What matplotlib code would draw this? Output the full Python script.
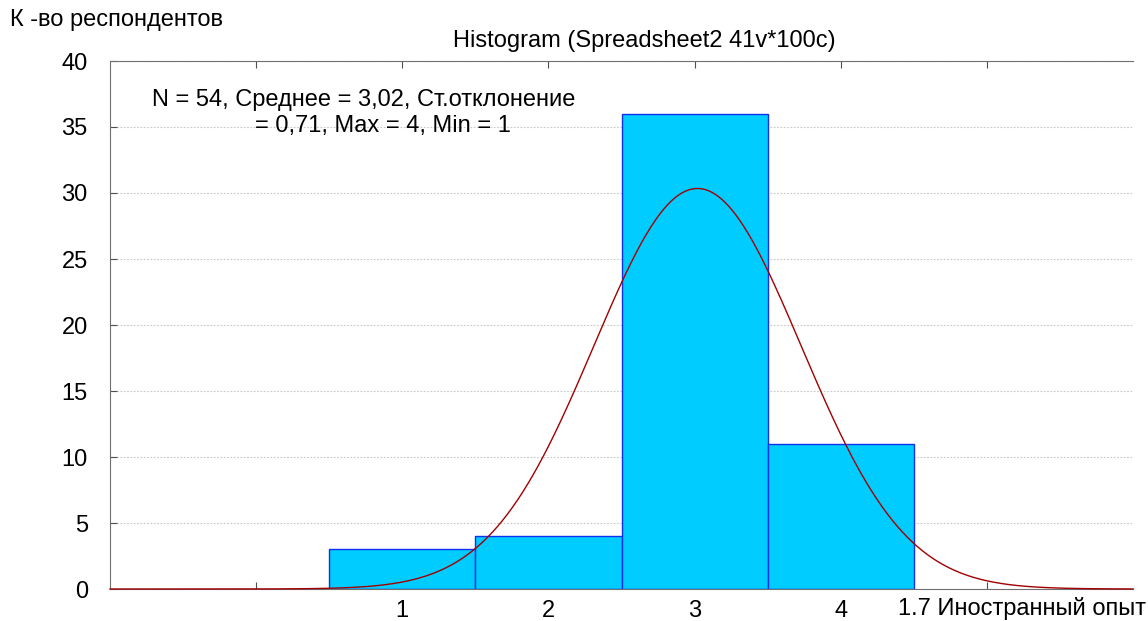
import numpy as np
from matplotlib import pyplot as plt

plt.rcParams['font.family'] = ['Liberation Sans', 'DejaVu Sans']

# histogram data
bins = [1, 2, 3, 4]
counts = [3, 4, 36, 11]
n_obs = 54
mean = 3.02
std = 0.71

fig = plt.figure(figsize=(11.48, 6.21), dpi=100)
ax = fig.add_axes([110 / 1148, 1 - 589 / 621, (1133 - 110) / 1148, (589 - 61) / 621])

ax.bar(bins, counts, width=1.0, color='#00CCFF', edgecolor='#1030F0', linewidth=1.0, zorder=2)

# fitted normal curve from the stats in the box
xs = np.linspace(-1, 6, 400)
ys = n_obs * np.exp(-0.5 * ((xs - mean) / std) ** 2) / (std * np.sqrt(2 * np.pi))
ax.plot(xs, ys, color='#A00000', linewidth=1.0, zorder=3, clip_on=False)

ax.set_xlim(-1, 6)
ax.set_ylim(0, 40)
ax.set_yticks(range(0, 41, 5))
ax.set_xticks([0, 1, 2, 3, 4, 5])
ax.set_xticklabels(['', '1', '2', '3', '4', ''])
ax.yaxis.grid(True, linestyle=(0, (1.5, 1.5)), color='#C8C8C8', linewidth=0.8, zorder=0)

for side in ['left', 'top', 'bottom']:
    ax.spines[side].set_color('#707070')
ax.spines['right'].set_visible(False)
ax.tick_params(axis='both', direction='in', length=5, color='#505050', labelsize=17)
ax.tick_params(axis='y', pad=16)
ax.tick_params(axis='x', top=True, pad=8)

fig.text(644 / 1148, 1 - 41 / 621, 'Histogram (Spreadsheet2 41v*100c)', ha='center', va='center', fontsize=17)
fig.text(10 / 1148, 1 - 20 / 621, 'К -во респондентов', ha='left', va='center', fontsize=17)
fig.text(1146 / 1148, 1 - 608 / 621, '1.7 Иностранный опыт', ha='right', va='center', fontsize=17)
fig.text(364 / 1148, 1 - 100 / 621, 'N = 54, Среднее = 3,02, Ст.отклонение', ha='center', va='center', fontsize=17)
fig.text(383 / 1148, 1 - 126 / 621, '= 0,71, Max = 4, Min = 1', ha='center', va='center', fontsize=17)

plt.savefig('out.png', dpi=100)
